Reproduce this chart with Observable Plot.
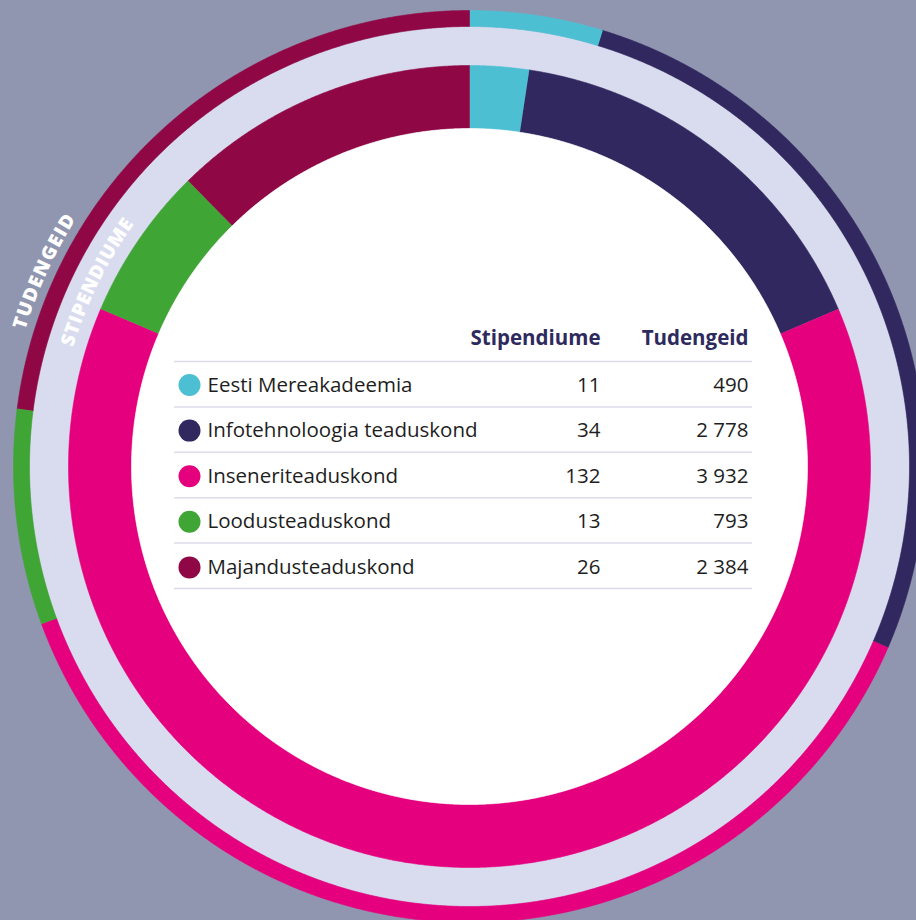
<!DOCTYPE html>
<html><head><meta charset="utf-8">
<script src="https://cdn.jsdelivr.net/npm/d3@7"></script>
<script src="https://cdn.jsdelivr.net/npm/@observablehq/plot@0.6"></script>
<style>
html,body{margin:0;padding:0;background:#9196b0;overflow:hidden;}
#chart svg{display:block}
#chart svg text.tbl{letter-spacing:0.6px}
</style></head><body><div id="chart"></div>
<script>
// ---- data ----
const faculties = ["Eesti Mereakadeemia","Infotehnoloogia teaduskond","Inseneriteaduskond","Loodusteaduskond","Majandusteaduskond"];
const stipendiume = [11, 34, 132, 13, 26];          // table values
const stipendiumeRing = [5, 34, 132, 13, 26];       // inner ring as drawn in the picture (Eesti slice is ~5)
const tudengeid = [490, 2778, 3932, 793, 2384];
const colors = ["#4dbfd3","#30285e","#e5007e","#3fa535","#8f0845"];
const headers = ["Stipendiume","Tudengeid"];
const ringLabels = ["TUDENGEID","STIPENDIUME"];

// ---- layout ----
const W = 916, H = 920, cx = 469, cy = 466;
const rOuter = [440, 456], rBand = [401, 440], rInner = [338, 401], rHole = 338;
const FONT = "'Open Sans'";

function ringPoly(a0, a1, r0, r1, id, color) {
  const n = Math.max(2, Math.ceil((a1 - a0) / 0.004));
  const pts = [];
  for (let i = 0; i <= n; i++) { const a = a0 + (a1 - a0) * i / n; pts.push({x: cx + r1 * Math.sin(a), y: cy - r1 * Math.cos(a), id, color}); }
  for (let i = n; i >= 0; i--) { const a = a0 + (a1 - a0) * i / n; pts.push({x: cx + r0 * Math.sin(a), y: cy - r0 * Math.cos(a), id, color}); }
  return pts;
}

const pie = d3.pie().sort(null).value(d => d);
const outerArcs = pie(tudengeid);
const innerArcs = pie(stipendiumeRing);

let shapes = [];
shapes = shapes.concat(ringPoly(0, 2 * Math.PI, 0, rBand[1], "band", "#d9dcee"));
outerArcs.forEach((a, i) => { shapes = shapes.concat(ringPoly(a.startAngle, a.endAngle, rOuter[0], rOuter[1], "o" + i, colors[i])); });
innerArcs.forEach((a, i) => { shapes = shapes.concat(ringPoly(a.startAngle, a.endAngle, rInner[0], rInner[1], "i" + i, colors[i])); });
shapes = shapes.concat(ringPoly(0, 2 * Math.PI, 0, rHole, "hole", "#ffffff"));

// curved labels, letter by letter
const ctx = document.createElement("canvas").getContext("2d");
function arcLetters(label, radius, midDeg, spanPx, size) {
  ctx.font = `800 ${size}px ${FONT}`;
  const ws = [...label].map(ch => ctx.measureText(ch).width);
  const sum = d3.sum(ws);
  const gap = (spanPx - sum) / (ws.length - 1);
  let s = -spanPx / 2;
  return [...label].map((ch, i) => {
    const c = s + ws[i] / 2;
    s += ws[i] + gap;
    const deg = midDeg + (c / radius) * 180 / Math.PI;
    const a = deg * Math.PI / 180;
    return {ch, x: cx + radius * Math.sin(a), y: cy - radius * Math.cos(a), rot: deg - 360};
  });
}
const letters = arcLetters(ringLabels[0], 471, 294.6, 124, 19)
  .concat(arcLetters(ringLabels[1], 420, 296.3, 140, 19));

// table
const fmt = d3.formatLocale({thousands: " ", grouping: [3], decimal: ","}).format(",d");
const rowY = i => 384.5 + i * 45.6;
const rows = faculties.map((f, i) => ({f, s: fmt(stipendiume[i]), t: fmt(tudengeid[i]), c: colors[i], y: rowY(i)}));
const ruleYs = d3.range(6).map(i => 361 + i * 45.4);
const colX = [600, 748];

const chart = Plot.plot({
  width: W, height: H, margin: 0,
  x: {type: "identity", axis: null},
  y: {type: "identity", axis: null},
  color: {type: "identity"},
  style: {background: "#9196b0", fontFamily: FONT},
  marks: [
    Plot.line(shapes, {x: "x", y: "y", z: "id", fill: "color", stroke: "color", strokeWidth: 0.6, curve: "linear"}),
    Plot.text(letters, {x: "x", y: "y", text: "ch", rotate: "rot", fill: "white", fontSize: 19, fontWeight: 800, lineAnchor: "middle", textAnchor: "middle"}),
    Plot.ruleY(ruleYs, {y: d => d, x1: 174, x2: 752, stroke: "#dcdcee", strokeWidth: 1.5}),
    Plot.text(headers, {x: (d, i) => colX[i], y: 338, text: d => d, textAnchor: "end", lineAnchor: "middle", fontSize: 20.5, fontWeight: 700, fill: "#2e2a5e", className: "tbl"}),
    Plot.dot(rows, {x: 189, y: "y", r: 11, fill: "c", stroke: null}),
    Plot.text(rows, {x: 207, y: "y", text: "f", textAnchor: "start", lineAnchor: "middle", fontSize: 20.5, fill: "#1e1e1e", className: "tbl"}),
    Plot.text(rows, {x: colX[0], y: "y", text: "s", textAnchor: "end", lineAnchor: "middle", fontSize: 20.5, fill: "#1e1e1e", className: "tbl"}),
    Plot.text(rows, {x: colX[1], y: "y", text: "t", textAnchor: "end", lineAnchor: "middle", fontSize: 20.5, fill: "#1e1e1e", className: "tbl"})
  ]
});
document.getElementById("chart").appendChild(chart);
</script></body></html>
